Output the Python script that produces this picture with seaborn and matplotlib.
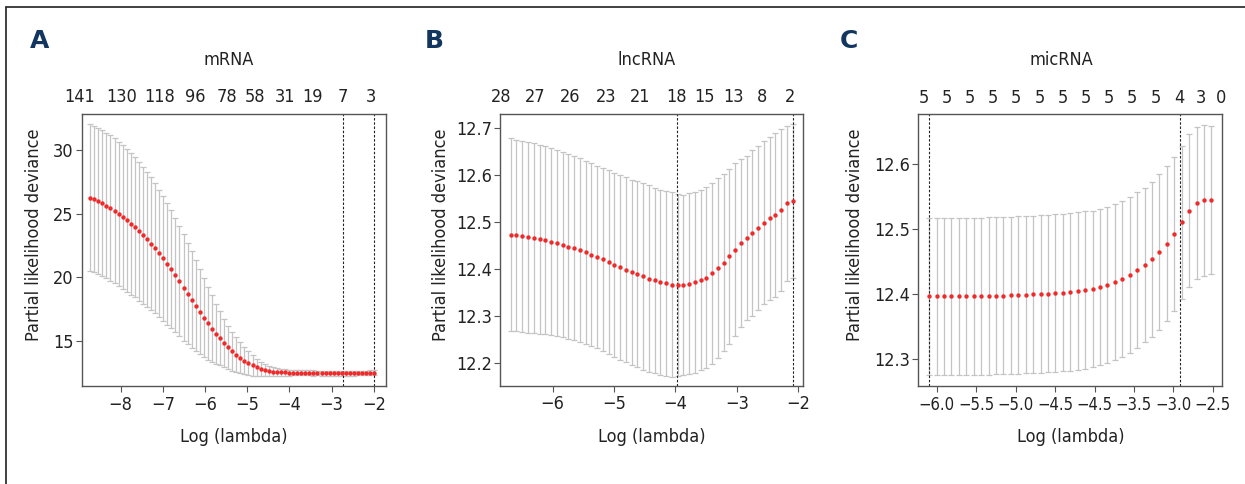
import numpy as np
import pandas as pd
import matplotlib
matplotlib.use("Agg")
import matplotlib.pyplot as plt
import matplotlib.transforms as mtransforms
from matplotlib.lines import Line2D
import seaborn as sns

# ---------------- mRNA: cross-validated partial likelihood deviance ----------------
mrna_loglam_first, mrna_loglam_last = -8.72, -1.99
mrna_cvm = [26.26, 26.13, 25.97, 25.81, 25.63, 25.42, 25.21, 24.97, 24.74, 24.48,
            24.21, 23.93, 23.61, 23.30, 22.98, 22.64, 22.28, 21.91, 21.49, 21.07,
            20.65, 20.18, 19.71, 19.21, 18.74, 18.27, 17.80, 17.33, 16.86, 16.41,
            16.00, 15.60, 15.24, 14.87, 14.53, 14.21, 13.95, 13.71, 13.48, 13.29,
            13.12, 12.96, 12.83, 12.75, 12.67, 12.62, 12.59, 12.57, 12.56, 12.55,
            12.55, 12.54, 12.54, 12.53, 12.53, 12.52, 12.52, 12.51, 12.51, 12.50,
            12.50, 12.49, 12.49, 12.49, 12.49, 12.50, 12.51, 12.52, 12.53, 12.54,
            12.55]
mrna_cvsd = [5.73, 5.73, 5.73, 5.71, 5.71, 5.70, 5.68, 5.66, 5.63, 5.60,
             5.55, 5.49, 5.44, 5.36, 5.27, 5.19, 5.08, 4.97, 4.87, 4.76,
             4.61, 4.48, 4.32, 4.17, 3.98, 3.77, 3.56, 3.35, 3.11, 2.88,
             2.61, 2.36, 2.10, 1.88, 1.67, 1.50, 1.35, 1.22, 1.06, 0.93,
             0.80, 0.68, 0.57, 0.48, 0.41, 0.35, 0.30, 0.27, 0.25, 0.23,
             0.22, 0.21, 0.21, 0.20, 0.20, 0.20, 0.19, 0.19, 0.19, 0.19,
             0.18, 0.18, 0.18, 0.18, 0.18, 0.18, 0.18, 0.18, 0.18, 0.18,
             0.18]
mrna_lambda_min, mrna_lambda_1se = -2.72, -1.99
mrna_nzero = ["141", "130", "118", "96", "78", "58", "31", "19", "7", "3"]
mrna_nzero_at = [-8.96, -7.98, -7.07, -6.22, -5.49, -4.82, -4.11, -3.45, -2.73, -2.08]
mrna_xticks = [-8, -7, -6, -5, -4, -3, -2]
mrna_xticklabels = ["\u22128", "\u22127", "\u22126", "\u22125", "\u22124", "\u22123", "\u22122"]
mrna_yticks = [15, 20, 25, 30]
mrna_yticklabels = ["15", "20", "25", "30"]

# ---------------- lncRNA ----------------
lnc_loglam_first, lnc_loglam_last = -6.683, -2.091
lnc_cvm = [12.4730, 12.4716, 12.4695, 12.4674, 12.4660, 12.4638, 12.4610, 12.4580, 12.4553, 12.4518,
           12.4480, 12.4447, 12.4404, 12.4360, 12.4310, 12.4255, 12.4206, 12.4150, 12.4090, 12.4035,
           12.3986, 12.3936, 12.3890, 12.3844, 12.3800, 12.3760, 12.3720, 12.3695, 12.3667, 12.3660,
           12.3667, 12.3690, 12.3716, 12.3766, 12.3820, 12.3910, 12.4014, 12.4140, 12.4277, 12.4410,
           12.4553, 12.4667, 12.4766, 12.4880, 12.4986, 12.5080, 12.5150, 12.5260, 12.5400, 12.5447]
lnc_cvsd = [0.2050, 0.2040, 0.2040, 0.2035, 0.2020, 0.2010, 0.2000, 0.1990, 0.1980, 0.1970,
            0.1965, 0.1960, 0.1950, 0.1945, 0.1940, 0.1940, 0.1940, 0.1950, 0.1955, 0.1960,
            0.1965, 0.1970, 0.1975, 0.1980, 0.1980, 0.1970, 0.1970, 0.1970, 0.1970, 0.1940,
            0.1920, 0.1930, 0.1920, 0.1910, 0.1920, 0.1920, 0.1915, 0.1880, 0.1860, 0.1840,
            0.1790, 0.1750, 0.1765, 0.1745, 0.1730, 0.1730, 0.1750, 0.1730, 0.1650, 0.1645]
lnc_lambda_min, lnc_lambda_1se = -3.974, -2.091
lnc_nzero = ["28", "27", "26", "23", "21", "18", "15", "13", "8", "2"]
lnc_nzero_at = [-6.845, -6.288, -5.710, -5.135, -4.570, -3.980, -3.520, -3.051, -2.594, -2.127]
lnc_xticks = [-6, -5, -4, -3, -2]
lnc_xticklabels = ["\u22126", "\u22125", "\u22124", "\u22123", "\u22122"]
lnc_yticks = [12.2, 12.3, 12.4, 12.5, 12.6, 12.7]
lnc_yticklabels = ["12.2", "12.3", "12.4", "12.5", "12.6", "12.7"]

# ---------------- micRNA ----------------
mic_loglam_first, mic_loglam_last = -6.096, -2.517
mic_cvm = [12.3970, 12.3970, 12.3970, 12.3970, 12.3970, 12.3970, 12.3970, 12.3972, 12.3975, 12.3977,
           12.3980, 12.3983, 12.3990, 12.3995, 12.4000, 12.4005, 12.4010, 12.4020, 12.4026, 12.4036,
           12.4050, 12.4067, 12.4090, 12.4120, 12.4150, 12.4190, 12.4240, 12.4300, 12.4370, 12.4450,
           12.4540, 12.4650, 12.4780, 12.4930, 12.5110, 12.5290, 12.5410, 12.5450, 12.5450]
mic_cvsd = [0.121, 0.121, 0.121, 0.121, 0.121, 0.121, 0.121, 0.121, 0.121, 0.121,
            0.121, 0.121, 0.121, 0.121, 0.121, 0.121, 0.121, 0.121, 0.121, 0.121,
            0.121, 0.121, 0.120, 0.120, 0.120, 0.120, 0.120, 0.120, 0.120, 0.119,
            0.119, 0.120, 0.119, 0.119, 0.118, 0.118, 0.117, 0.116, 0.114]
mic_lambda_min, mic_lambda_1se = -6.096, -2.91
mic_nzero = ["5", "5", "5", "5", "5", "5", "5", "5", "5", "5", "5", "4", "3", "0"]
mic_nzero_at = [-6.165, -5.873, -5.577, -5.289, -4.994, -4.698, -4.401, -4.109,
                -3.817, -3.522, -3.226, -2.921, -2.650, -2.392]
mic_xticks = [-6.0, -5.5, -5.0, -4.5, -4.0, -3.5, -3.0, -2.5]
mic_xticklabels = ["\u22126.0", "\u22125.5", "\u22125.0", "\u22124.5", "\u22124.5",
                   "\u22123.5", "\u22123.0", "\u22122.5"]
mic_yticks = [12.3, 12.4, 12.5, 12.6]
mic_yticklabels = ["12.3", "12.4", "12.5", "12.6"]

panel_letters = ["A", "B", "C"]
panel_titles = ["mRNA", "lncRNA", "micRNA"]
x_label = "Log (lambda)"
y_label = "Partial likelihood deviance"

# ---------------- style ----------------
sns.set_theme(style="white")
FONT = ["DejaVu Sans Condensed", "Liberation Sans Narrow", "DejaVu Sans"]
plt.rcParams["font.family"] = FONT
plt.rcParams["font.stretch"] = "condensed"
plt.rcParams["axes.unicode_minus"] = True

TEXT = "#222222"
SPINE = "#555555"
BAR = "#c4c4c4"
DOT = "#f02a2a"
NAVY = "#12365f"
FS = 13

W, H = 1245, 484
fig = plt.figure(figsize=(W / 100, H / 100), dpi=100)
fig.patch.set_facecolor("white")


def px_box(left, right, top, bottom):
    return [left / W, 1 - bottom / H, (right - left) / W, (bottom - top) / H]


panels = [
    dict(box=px_box(81.7, 385.7, 114, 386), xlim=(-8.92, -1.72), ylim=(11.5, 32.8),
         first=mrna_loglam_first, last=mrna_loglam_last, cvm=mrna_cvm, cvsd=mrna_cvsd,
         lmin=mrna_lambda_min, l1se=mrna_lambda_1se, nz=mrna_nzero, nz_at=mrna_nzero_at,
         xt=mrna_xticks, xtl=mrna_xticklabels, yt=mrna_yticks, ytl=mrna_yticklabels,
         title_x=229, letter_x=40, ylab_x=34.5, xfs=FS),
    dict(box=px_box(500.3, 803.3, 114, 385.7), xlim=(-6.853, -1.918), ylim=(12.152, 12.730),
         first=lnc_loglam_first, last=lnc_loglam_last, cvm=lnc_cvm, cvsd=lnc_cvsd,
         lmin=lnc_lambda_min, l1se=lnc_lambda_1se, nz=lnc_nzero, nz_at=lnc_nzero_at,
         xt=lnc_xticks, xtl=lnc_xticklabels, yt=lnc_yticks, ytl=lnc_yticklabels,
         title_x=646.7, letter_x=434, ylab_x=441.5, xfs=FS),
    dict(box=px_box(918.3, 1222.3, 114.3, 386), xlim=(-6.234, -2.38), ylim=(12.259, 12.677),
         first=mic_loglam_first, last=mic_loglam_last, cvm=mic_cvm, cvsd=mic_cvsd,
         lmin=mic_lambda_min, l1se=mic_lambda_1se, nz=mic_nzero, nz_at=mic_nzero_at,
         xt=mic_xticks, xtl=mic_xticklabels, yt=mic_yticks, ytl=mic_yticklabels,
         title_x=1061.7, letter_x=849, ylab_x=855.5, xfs=12),
]

for p, letter, title in zip(panels, panel_letters, panel_titles):
    ax = fig.add_axes(p["box"])
    n = len(p["cvm"])
    df = pd.DataFrame({
        "loglam": np.linspace(p["first"], p["last"], n),
        "cvm": p["cvm"],
        "cvsd": p["cvsd"],
    })
    # error bars: cvm +/- cvsd with short caps
    ax.errorbar(df["loglam"], df["cvm"], yerr=df["cvsd"], fmt="none",
                ecolor=BAR, elinewidth=0.9, capsize=2.0, capthick=0.9, zorder=1)
    # cross-validated mean deviance
    sns.scatterplot(data=df, x="loglam", y="cvm", ax=ax, color=DOT, s=10,
                    linewidth=0, zorder=3, legend=False)
    # lambda.min and lambda.1se
    for v in (p["lmin"], p["l1se"]):
        ax.axvline(v, color="#222222", lw=0.8, ls=(0, (2.2, 1.6)), zorder=2)

    ax.set_xlim(*p["xlim"])
    ax.set_ylim(*p["ylim"])
    ax.set_xticks(p["xt"])
    ax.set_xticklabels(p["xtl"])
    ax.set_yticks(p["yt"])
    ax.set_yticklabels(p["ytl"])
    ax.tick_params(axis="both", which="major", direction="out", length=4, width=0.8,
                   color=SPINE, labelsize=FS, labelcolor=TEXT)
    ax.tick_params(axis="x", pad=3, labelsize=p["xfs"])
    ax.tick_params(axis="y", pad=2)
    ax.tick_params(top=False, right=False, bottom=True, left=True)
    for s in ax.spines.values():
        s.set_color(SPINE)
        s.set_linewidth(1.0)
    ax.set_xlabel(x_label, fontsize=FS, color=TEXT)
    ax.set_ylabel(y_label, fontsize=FS, color=TEXT)
    ax.grid(False)

    # place axis titles by figure pixel position
    bbox = ax.get_position()
    ax_left_px = bbox.x0 * W
    ax_w_px = bbox.width * W
    ax_bottom_px = (1 - bbox.y0) * H
    ax_h_px = bbox.height * H
    ax.yaxis.set_label_coords((p["ylab_x"] - ax_left_px) / ax_w_px,
                              (ax_bottom_px - 235) / ax_h_px)
    ax.yaxis.label.set_va("center")
    ax.xaxis.set_label_coords(0.5, -(437 - ax_bottom_px) / ax_h_px)
    ax.xaxis.label.set_va("center")

    # number of non-zero coefficients along the top
    trans = mtransforms.blended_transform_factory(ax.transData, ax.transAxes)
    for pos, lab in zip(p["nz_at"], p["nz"]):
        ax.annotate(lab, xy=(pos, 1.0), xycoords=trans, xytext=(0, 5.5),
                    textcoords="offset points", ha="center", va="bottom",
                    fontsize=FS, color=TEXT, annotation_clip=False)

    fig.text(p["title_x"] / W, 1 - 60 / H, title, ha="center", va="center",
             fontsize=FS, color=TEXT)
    fig.text(p["letter_x"] / W, 1 - 40.5 / H, letter, ha="center", va="center",
             fontsize=18, fontweight="bold", color=NAVY, family=["DejaVu Sans"],
             stretch="normal")

# frame corner around the figure
fig.add_artist(Line2D([6 / W, 1.0], [1 - 7 / H, 1 - 7 / H], transform=fig.transFigure,
                      color="#333333", lw=1.3))
fig.add_artist(Line2D([6 / W, 6 / W], [0.0, 1 - 7 / H], transform=fig.transFigure,
                      color="#333333", lw=1.3))

fig.savefig("out.png", dpi=100, facecolor="white")
